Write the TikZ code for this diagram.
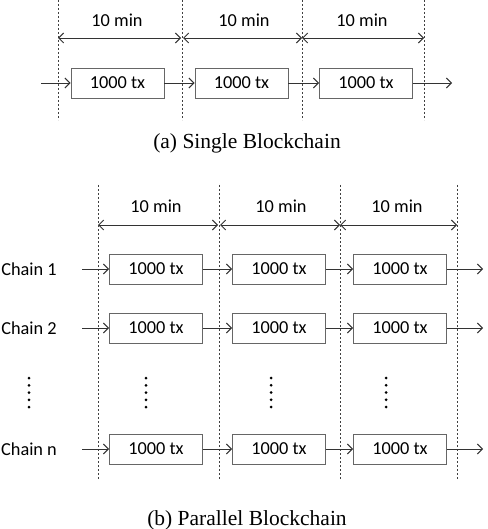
\documentclass[tikz,border=0pt]{standalone}
\usepackage{fontspec}
\setmainfont{Liberation Serif}
\newfontfamily\lblfont{Carlito}
\usetikzlibrary{arrows.meta}
\begin{document}
\begin{tikzpicture}[x=1pt,y=-1pt,
  blk/.style={draw=black!60,line width=0.8pt,minimum width=93pt,minimum height=30pt,inner sep=0pt,font=\lblfont\fontsize{18.3}{20}\selectfont,fill=white},
  lbl/.style={font=\lblfont\fontsize{18.3}{20}\selectfont,inner sep=0pt},
  captxt/.style={font=\fontsize{21.5}{24}\selectfont,inner sep=0pt},
  vdash/.style={draw=black!75,line width=0.7pt,dash pattern=on 2pt off 2pt},
  conn/.style={draw=black!80,line width=0.7pt,-{Straight Barb[length=5pt,width=10pt,line width=1pt]}},
  dim/.style={draw=black!80,line width=0.7pt,{Straight Barb[length=5pt,width=10pt,line width=1pt]}-{Straight Barb[length=5pt,width=10pt,line width=1pt]}},
  dotc/.style={fill=black,circle,inner sep=0pt,minimum size=3pt}]
\useasboundingbox (0,0) rectangle (487,529);
% ---------- (a) ----------
\foreach \x [count=\i] in {58,182,302,424} {
  \coordinate (at\i) at (\x,0);
  \coordinate (ab\i) at (\x,120);
  \coordinate (ad\i) at (\x,38);
  \draw[vdash] (at\i) -- (ab\i);
}
\draw[dim] (ad1) -- ([xshift=-1pt]ad2);
\draw[dim] ([xshift=1pt]ad2) -- (ad3);
\draw[dim] (ad3) -- (ad4);
\node[lbl] (am1) at (117,20) {10 min};
\node[lbl] (am2) at (244,20) {10 min};
\node[lbl] (am3) at (362,20) {10 min};
\node[blk] (a1) at (117.5,83) {1000 tx};
\node[blk] (a2) at (241.5,83) {1000 tx};
\node[blk] (a3) at (366,83) {1000 tx};
\coordinate (as) at (41,83);
\coordinate (ae) at (452,83);
\draw[conn] (as) -- (a1);
\draw[conn] (a1) -- (a2);
\draw[conn] (a2) -- (a3);
\draw[conn] (a3) -- (ae);
\node[captxt] (capa) at (247,143) {(a) Single Blockchain};
% ---------- (b) ----------
\foreach \x [count=\i] in {98,219,340,457} {
  \coordinate (bt\i) at (\x,185);
  \coordinate (bb\i) at (\x,480);
  \coordinate (bd\i) at (\x,225);
  \draw[vdash] (bt\i) -- (bb\i);
}
\draw[dim] (bd1) -- ([xshift=-1pt]bd2);
\draw[dim] ([xshift=1pt]bd2) -- (bd3);
\draw[dim] (bd3) -- (bd4);
\node[lbl] (bm1) at (156,206) {10 min};
\node[lbl] (bm2) at (281,206) {10 min};
\node[lbl] (bm3) at (397,206) {10 min};
\foreach \y/\n/\t in {269/r1/Chain 1, 328/r2/Chain 2, 449/rn/Chain n} {
  \node[lbl] (\n l) at (29,\y) {\t};
  \node[blk] (\n b1) at (156,\y) {1000 tx};
  \node[blk] (\n b2) at (279,\y) {1000 tx};
  \node[blk] (\n b3) at (400,\y) {1000 tx};
  \coordinate (\n s) at (82,\y);
  \coordinate (\n e) at (483,\y);
  \draw[conn] (\n s) -- (\n b1);
  \draw[conn] (\n b1) -- (\n b2);
  \draw[conn] (\n b2) -- (\n b3);
  \draw[conn] (\n b3) -- (\n e);
}
\foreach \x in {29,146,271,386} {
  \foreach \y in {378,385.25,392.5,399.75,407} {
    \node[dotc] at (\x,\y) {};
  }
}
\node[captxt] (capb) at (247,520) {(b) Parallel Blockchain};
\end{tikzpicture}
\end{document}
